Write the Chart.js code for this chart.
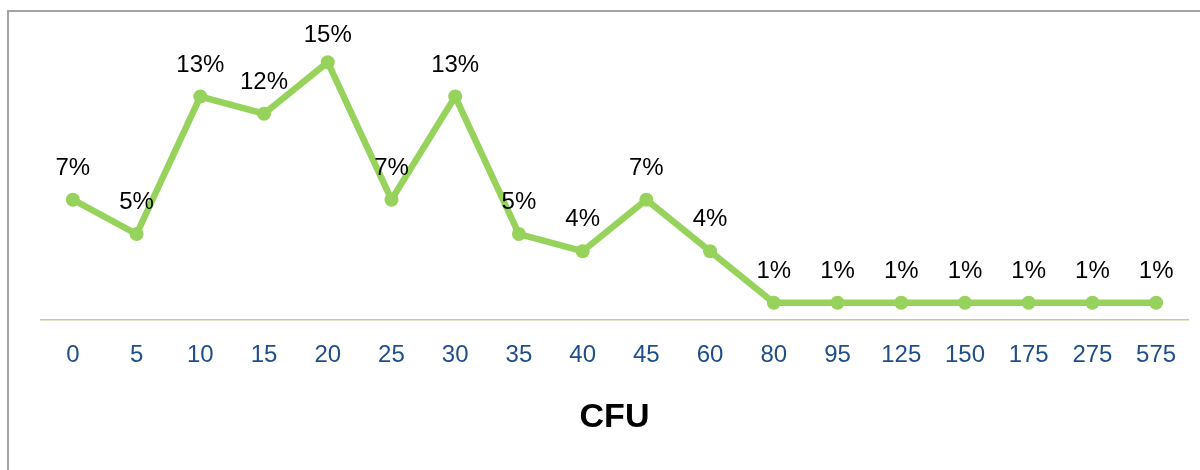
<!DOCTYPE html>
<html>
<head>
<meta charset="utf-8">
<script src="https://cdn.jsdelivr.net/npm/chart.js@4"></script>
<style>
  html, body { margin: 0; padding: 0; background: #fff; }
  #wrap { width: 1200px; height: 470px; position: relative; }
</style>
</head>
<body>
<div id="wrap"><canvas id="c" width="1200" height="470"></canvas></div>
<script>
const categories = ['0','5','10','15','20','25','30','35','40','45','60','80','95','125','150','175','275','575'];
const values = [7, 5, 13, 12, 15, 7, 13, 5, 4, 7, 4, 1, 1, 1, 1, 1, 1, 1];
const axisTitle = 'CFU';
const FONT = '"Liberation Sans", Arial, sans-serif';

const framePlugin = {
  id: 'frame',
  beforeDraw(chart) {
    const ctx = chart.ctx;
    ctx.save();
    ctx.fillStyle = '#ffffff';
    ctx.fillRect(0, 0, chart.width, chart.height);
    ctx.strokeStyle = '#a3a3a3';
    ctx.lineWidth = 2;
    ctx.beginPath();
    ctx.moveTo(8, chart.height);
    ctx.lineTo(8, 11);
    ctx.lineTo(chart.width, 11);
    ctx.stroke();
    ctx.restore();
  }
};

const labelPlugin = {
  id: 'pctLabels',
  afterDatasetsDraw(chart) {
    const ctx = chart.ctx;
    const meta = chart.getDatasetMeta(0);
    ctx.save();
    ctx.font = '24px ' + FONT;
    ctx.fillStyle = '#000000';
    ctx.textAlign = 'center';
    ctx.textBaseline = 'alphabetic';
    meta.data.forEach((pt, i) => {
      const y = Math.max(pt.y - 25, 42);
      ctx.fillText(values[i] + '%', pt.x, y);
    });
    ctx.restore();
  }
};

new Chart(document.getElementById('c'), {
  type: 'line',
  data: {
    labels: categories,
    datasets: [{
      data: values,
      borderColor: '#97d35c',
      backgroundColor: '#97d35c',
      borderWidth: 6.5,
      pointRadius: 7,
      pointHoverRadius: 7,
      pointBorderWidth: 0,
      pointBackgroundColor: '#97d35c',
      tension: 0,
      fill: false
    }]
  },
  options: {
    responsive: false,
    animation: false,
    devicePixelRatio: 1,
    layout: { padding: { top: 45, left: 41, right: 12, bottom: 0 } },
    plugins: { legend: { display: false }, tooltip: { enabled: false } },
    scales: {
      x: {
        offset: true,
        grid: { display: false, drawTicks: false },
        border: { display: true, color: '#cdc4a0', width: 1.5 },
        ticks: {
          color: '#1f4e89',
          padding: 21,
          font: { family: FONT, size: 24 },
          maxRotation: 0,
          autoSkip: false
        },
        title: {
          display: true,
          text: axisTitle,
          color: '#000000',
          font: { family: FONT, size: 34, weight: 'bold' },
          padding: { top: 0, bottom: 32 }
        },
        afterFit(scale) { scale.height = 150; }
      },
      y: {
        display: false,
        min: 0,
        max: 16
      }
    }
  },
  plugins: [framePlugin, labelPlugin]
});
</script>
</body>
</html>
